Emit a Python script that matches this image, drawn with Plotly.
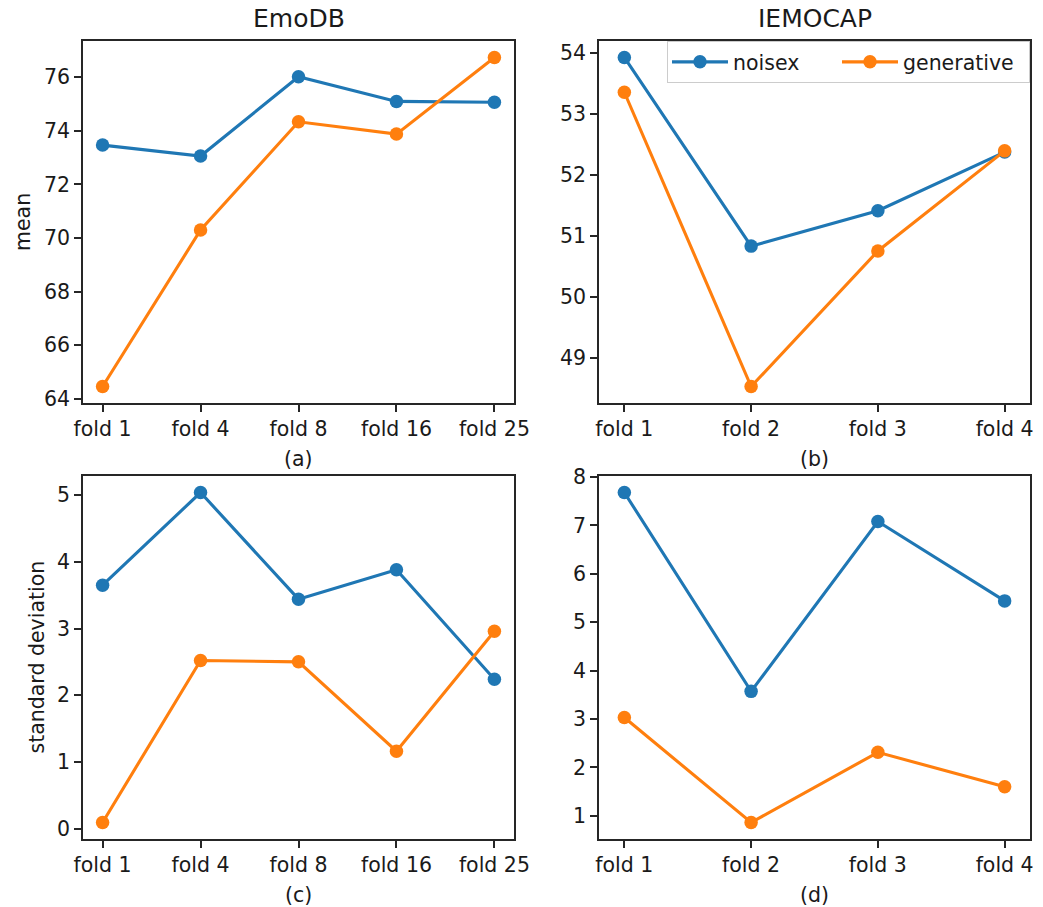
import plotly.graph_objects as go

# ---- data ----
emodb_folds = ["fold 1", "fold 4", "fold 8", "fold 16", "fold 25"]
iemocap_folds = ["fold 1", "fold 2", "fold 3", "fold 4"]

emodb_mean_noisex = [73.47, 73.06, 76.02, 75.10, 75.07]
emodb_mean_generative = [64.46, 70.30, 74.34, 73.88, 76.74]
iemocap_mean_noisex = [53.92, 50.83, 51.41, 52.37]
iemocap_mean_generative = [53.35, 48.53, 50.75, 52.39]

emodb_std_noisex = [3.65, 5.04, 3.44, 3.88, 2.24]
emodb_std_generative = [0.09, 2.52, 2.50, 1.16, 2.96]
iemocap_std_noisex = [7.68, 3.57, 7.08, 5.44]
iemocap_std_generative = [3.03, 0.86, 2.31, 1.60]

series_names = ["noisex", "generative"]
series_colors = ["#1f77b4", "#ff7f0e"]
legend_entry_widths = [99, 121]

# ---- figure geometry (pixels) ----
W, H = 1043, 907
FONT = "DejaVu Sans"
TXT = "#1a1a1a"


def px_x(x):
    return x / W


def px_y(y):
    return 1 - y / H


panels = [
    # (axis suffix, folds, [noisex, generative], x px span, y px span, dtick, sublabel)
    ("", emodb_folds, [emodb_mean_noisex, emodb_mean_generative], (83, 514), (41, 403), 2, "(a)"),
    ("2", iemocap_folds, [iemocap_mean_noisex, iemocap_mean_generative], (599, 1030), (41, 403), 1, "(b)"),
    ("3", emodb_folds, [emodb_std_noisex, emodb_std_generative], (83, 514), (476, 839), 1, "(c)"),
    ("4", iemocap_folds, [iemocap_std_noisex, iemocap_std_generative], (599, 1030), (476, 839), 1, "(d)"),
]

fig = go.Figure()
annotations = []
layout_axes = {}

for i, (suf, folds, values, (x0, x1), (y0, y1), dtick, sub) in enumerate(panels):
    xs = list(range(len(folds)))
    for name, color, ys, lw in zip(series_names, series_colors, values, legend_entry_widths):
        fig.add_trace(go.Scatter(
            x=xs, y=ys, mode="lines+markers", name=name,
            line=dict(color=color, width=3.1),
            marker=dict(color=color, size=13.5),
            xaxis="x" + suf, yaxis="y" + suf,
            showlegend=(i == 1),
            legendgroup=name,
            legendwidth=lw,
        ))

    # autoscale like a 5% data margin
    lo = min(min(v) for v in values)
    hi = max(max(v) for v in values)
    pad = (hi - lo) * 0.05
    n = len(folds)

    axis_common = dict(
        showline=True, mirror=True, linecolor="#262626", linewidth=1.6,
        ticks="outside", ticklen=7, tickwidth=1.6, tickcolor="#262626",
        showgrid=False, zeroline=False, automargin=False,
        tickfont=dict(family=FONT, size=20.5, color=TXT),
    )
    layout_axes["xaxis" + suf] = dict(
        axis_common,
        domain=[px_x(x0), px_x(x1)],
        anchor="y" + suf,
        range=[-0.2, n - 1 + 0.2],
        tickmode="array", tickvals=xs, ticktext=folds,
    )
    layout_axes["yaxis" + suf] = dict(
        axis_common,
        domain=[px_y(y1), px_y(y0)],
        anchor="x" + suf,
        range=[lo - pad, hi + pad],
        tick0=0, dtick=dtick,
    )

    annotations.append(dict(
        text=sub, x=px_x((x0 + x1) / 2), y=px_y(y1 + 56),
        xref="paper", yref="paper", xanchor="center", yanchor="middle",
        showarrow=False, font=dict(family=FONT, size=20.5, color=TXT),
    ))

# column titles
for title, (x0, x1) in [("EmoDB", (83, 514)), ("IEMOCAP", (599, 1030))]:
    annotations.append(dict(
        text=title, x=px_x((x0 + x1) / 2), y=px_y(18),
        xref="paper", yref="paper", xanchor="center", yanchor="middle",
        showarrow=False, font=dict(family=FONT, size=25, color=TXT),
    ))

# row labels
for label, xpx, (y0, y1) in [("mean", 23, (41, 403)), ("standard deviation", 36, (476, 839))]:
    annotations.append(dict(
        text=label, x=px_x(xpx), y=px_y((y0 + y1) / 2), textangle=-90,
        xref="paper", yref="paper", xanchor="center", yanchor="middle",
        showarrow=False, font=dict(family=FONT, size=20.5, color=TXT),
    ))

fig.update_layout(
    width=W, height=H,
    margin=dict(l=0, r=0, t=0, b=0, autoexpand=False),
    paper_bgcolor="white", plot_bgcolor="white",
    font=dict(family=FONT, color=TXT),
    annotations=annotations,
    legend=dict(
        orientation="h",
        x=px_x(1030), y=px_y(41), xanchor="right", yanchor="top",
        bgcolor="rgba(255,255,255,0.8)", bordercolor="#cccccc", borderwidth=1,
        font=dict(family=FONT, size=20.5, color=TXT),
        itemwidth=56,
    ),
    **layout_axes,
)

fig.write_html("out.html")
